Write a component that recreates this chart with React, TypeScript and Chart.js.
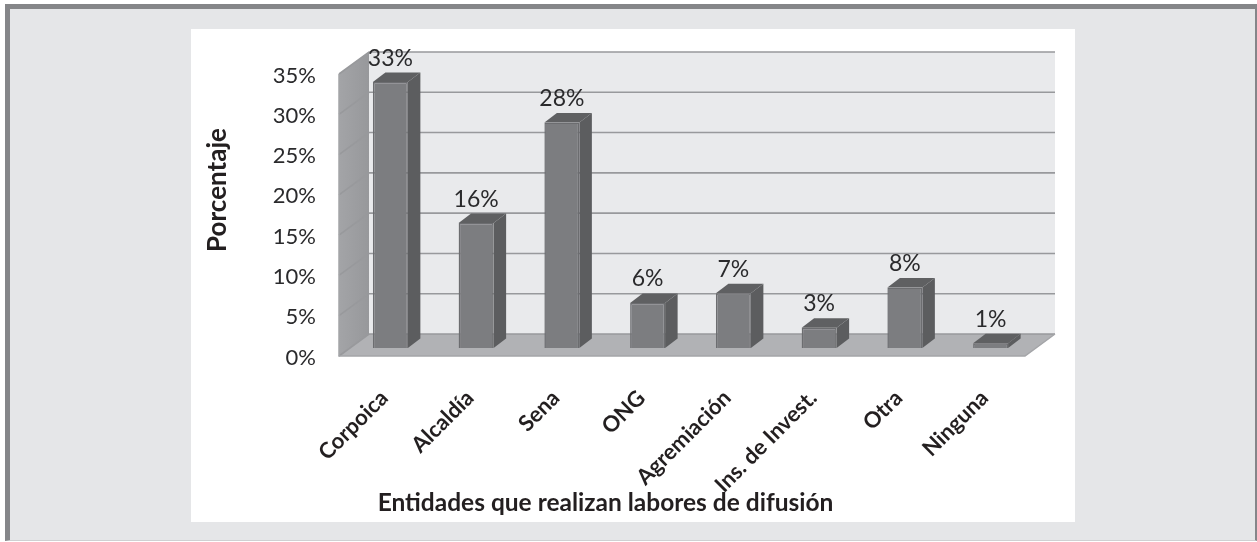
import React, { useEffect, useRef } from "react";
import { Chart, registerables } from "chart.js";

Chart.register(...registerables);

const categories = ["Corpoica", "Alcaldía", "Sena", "ONG", "Agremiación", "Ins. de Invest.", "Otra", "Ninguna"];
const seriesValues = [33, 15.5, 28, 5.6, 6.8, 2.5, 7.5, 0.6];
const yTicks = [0, 5, 10, 15, 20, 25, 30, 35];
const xTitle = "Entidades que realizan labores de difusión";
const yTitle = "Porcentaje";

const FONT = "Lato, Carlito, sans-serif";
const WALL = { dx: 30, dy: 22 };
const BAR_SHIFT = { dx: 8.5, dy: 8 };
const BAR_DEPTH = { dx: 12.5, dy: 9.5 };

function poly(ctx: CanvasRenderingContext2D, pts: number[][], fill: string | CanvasGradient) {
  ctx.beginPath();
  pts.forEach((p, i) => (i ? ctx.lineTo(p[0], p[1]) : ctx.moveTo(p[0], p[1])));
  ctx.closePath();
  ctx.fillStyle = fill;
  ctx.fill();
}

const box3d = {
  id: "box3d",
  afterUpdate(chart: any) {
    chart.scales.y.getLabelItems().forEach((item: any) => {
      item.textOffset += 1.5;
    });
    chart.scales.x.getLabelItems().forEach((item: any) => {
      item.options.translation[0] += 2.5;
    });
  },
  beforeDatasetsDraw(chart: any) {
    const { ctx, chartArea: a, scales } = chart;
    const y = scales.y;
    const { dx, dy } = WALL;
    const y0 = y.getPixelForValue(0);
    const yTop = y.getPixelForValue(35);
    ctx.save();
    // back wall
    poly(ctx, [[a.left + dx, yTop - dy], [a.right + dx, yTop - dy], [a.right + dx, y0 - dy], [a.left + dx, y0 - dy]], "#e9eaec");
    // left wall
    const g = ctx.createLinearGradient(a.left, 0, a.left + dx, 0);
    g.addColorStop(0, "#a3a4a7");
    g.addColorStop(1, "#97989b");
    poly(ctx, [[a.left, yTop], [a.left + dx, yTop - dy], [a.left + dx, y0 - dy], [a.left, y0]], g);
    // floor
    poly(ctx, [[a.left, y0], [a.left + dx, y0 - dy], [a.right + dx, y0 - dy], [a.right, y0]], "#b1b2b5");
    // gridlines
    ctx.strokeStyle = "#98999c";
    ctx.lineWidth = 1.6;
    yTicks.forEach((t) => {
      const p = y.getPixelForValue(t);
      ctx.beginPath();
      ctx.moveTo(a.left, p);
      ctx.lineTo(a.left + dx, p - dy);
      ctx.lineTo(a.right + dx, p - dy);
      ctx.stroke();
    });
    // wall and floor edges
    ctx.strokeStyle = "#a4a5a8";
    ctx.lineWidth = 1.5;
    ctx.beginPath();
    ctx.moveTo(a.left, yTop);
    ctx.lineTo(a.left, y0);
    ctx.lineTo(a.right, y0);
    ctx.lineTo(a.right + dx, y0 - dy);
    ctx.stroke();
    ctx.restore();
  },
  beforeDatasetDraw(chart: any) {
    const { ctx } = chart;
    const meta = chart.getDatasetMeta(0);
    ctx.save();
    ctx.translate(BAR_SHIFT.dx, -BAR_SHIFT.dy);
    meta.data.forEach((bar: any) => {
      const l = bar.x - bar.width / 2;
      const r = bar.x + bar.width / 2;
      const t = bar.y;
      const b = bar.base;
      const { dx, dy } = BAR_DEPTH;
      poly(ctx, [[r, t], [r + dx, t - dy], [r + dx, b - dy], [r, b]], "#5c5d5f");
      poly(ctx, [[l, t], [l + dx, t - dy], [r + dx, t - dy], [r, t]], "#5f6062");
    });
  },
  afterDatasetDraw(chart: any) {
    chart.ctx.restore();
  },
  afterDatasetsDraw(chart: any) {
    const { ctx } = chart;
    const meta = chart.getDatasetMeta(0);
    ctx.save();
    ctx.fillStyle = "#2a2a2c";
    ctx.font = `23px ${FONT}`;
    ctx.textAlign = "center";
    ctx.textBaseline = "middle";
    meta.data.forEach((bar: any, i: number) => {
      ctx.fillText(`${Math.round(seriesValues[i])}%`, bar.x + BAR_SHIFT.dx, bar.y - BAR_SHIFT.dy - 24);
    });
    ctx.fillStyle = "#231f20";
    ctx.font = `bold 24.5px ${FONT}`;
    ctx.fillText(xTitle, 414.5, 474);
    ctx.translate(27, 161);
    ctx.rotate(-Math.PI / 2);
    ctx.font = `bold 26px ${FONT}`;
    ctx.fillText(yTitle, 0, 0);
    ctx.restore();
  },
};

export default function App() {
  const ref = useRef<HTMLCanvasElement>(null);
  useEffect(() => {
    const chart = new Chart(ref.current!, {
      type: "bar",
      data: {
        labels: categories,
        datasets: [
          {
            data: seriesValues,
            backgroundColor: "#7c7d80",
            borderColor: "#6c6d70",
            borderWidth: 1.5,
            categoryPercentage: 1,
            barPercentage: 0.408,
            clip: false,
          } as any,
        ],
      },
      plugins: [box3d as any],
      options: {
        animation: false,
        responsive: false,
        layout: { padding: { left: 10, right: 50, top: 45, bottom: 0 } },
        plugins: { legend: { display: false }, tooltip: { enabled: false }, title: { display: false } },
        scales: {
          x: {
            grid: { display: false },
            border: { display: false },
            afterFit: (s: any) => { s.height = 166; },
            ticks: {
              autoSkip: false,
              maxRotation: 45,
              minRotation: 45,
              padding: 21,
              color: "#231f20",
              font: { family: FONT, size: 22, weight: "bold" },
            },
          },
          y: {
            min: 0,
            max: 35,
            grid: { display: false },
            border: { display: false },
            afterFit: (s: any) => { s.width = 138; },
            afterBuildTicks: (s: any) => { s.ticks = yTicks.map((value) => ({ value })); },
            ticks: {
              padding: 15,
              color: "#2a2a2c",
              font: { family: FONT, size: 22 },
              callback: (v: any) => `${v}%`,
            },
          },
        },
      },
    });
    return () => chart.destroy();
  }, []);

  return (
    <div style={{ position: "absolute", left: 0, top: 0, width: 1257, height: 542, overflow: "hidden", background: "#fff" }}>
      <div
        style={{
          position: "absolute",
          left: 5,
          top: 4,
          width: 1252,
          height: 537,
          boxSizing: "border-box",
          background: "#e5e6e8",
          borderLeft: "5px solid #858689",
          borderTop: "5px solid #858689",
          borderRight: "2px solid #858689",
          borderBottom: "1px solid #cfd0d2",
        }}
      />
      <canvas
        ref={ref}
        width={884}
        height={493}
        style={{ position: "absolute", left: 191, top: 29, width: 884, height: 493, background: "#fff" }}
      />
    </div>
  );
}
